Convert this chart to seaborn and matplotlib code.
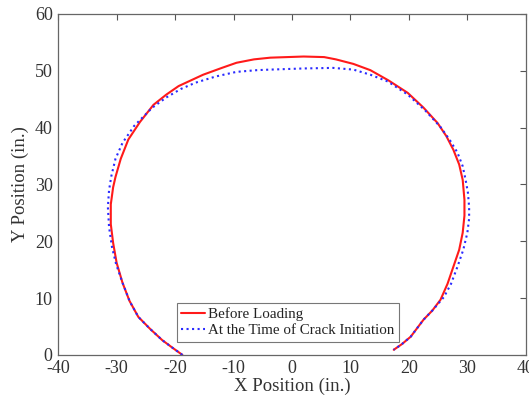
import matplotlib
matplotlib.use("Agg")
import matplotlib.pyplot as plt
import seaborn as sns

# Before Loading (red, solid)
before_x = [-18.75, -20.5, -22.2, -24.3, -26.3, -27.8, -29.0, -30.0, -30.6, -31.0,
            -31.0, -30.6, -30.2, -29.3, -28.0, -26.0, -23.7, -21.5, -19.4, -15.2,
            -12.0, -9.5, -6.5, -3.7, 2.0, 5.5, 7.5, 10.5, 13.4, 16.5,
            19.8, 22.5, 24.9, 26.4, 27.6, 28.6, 29.2, 29.5, 29.5, 29.2,
            28.6, 27.6, 26.6, 25.4, 24.0, 22.5, 20.3, 18.8, 17.4]
before_y = [0.0, 1.3, 2.6, 4.6, 6.7, 9.5, 12.7, 16.2, 19.7, 23.0,
            26.5, 29.5, 31.3, 34.5, 37.9, 41.0, 44.0, 45.8, 47.3, 49.3,
            50.5, 51.4, 52.0, 52.3, 52.5, 52.4, 52.0, 51.2, 50.1, 48.3,
            46.1, 43.5, 40.8, 38.5, 36.1, 33.5, 30.8, 27.3, 24.5, 21.5,
            18.5, 15.5, 12.5, 9.7, 7.8, 6.2, 3.2, 1.9, 0.9]

# At the Time of Crack Initiation (blue, dotted)
crack_x = [-18.75, -20.5, -22.2, -24.3, -26.3, -27.8, -29.0, -30.1, -30.8, -31.3,
           -31.5, -31.3, -30.9, -30.2, -29.0, -27.0, -23.9, -21.5, -19.0, -16.5,
           -13.0, -9.5, -6.0, -3.7, 2.0, 7.0, 10.5, 13.4, 16.4, 19.8,
           22.8, 25.4, 27.0, 28.3, 29.2, 29.7, 30.1, 30.3, 30.3, 30.0,
           29.3, 28.3, 27.2, 26.0, 24.0, 22.5, 20.3, 18.8, 17.4]
crack_y = [0.0, 1.3, 2.6, 4.6, 6.7, 9.5, 12.7, 16.0, 19.0, 22.5,
           26.0, 29.0, 31.5, 34.5, 37.3, 40.3, 43.5, 45.3, 46.8, 47.9,
           49.0, 49.8, 50.1, 50.2, 50.4, 50.5, 50.2, 49.3, 48.1, 45.8,
           43.0, 40.1, 37.8, 35.6, 33.2, 30.8, 28.5, 26.0, 24.0, 21.5,
           18.5, 15.5, 12.5, 10.2, 7.8, 6.2, 3.2, 1.9, 0.9]

series_labels = ["Before Loading", "At the Time of Crack Initiation"]
x_ticks = [-40, -30, -20, -10, 0, 10, 20, 30, 40]
y_ticks = [0, 10, 20, 30, 40, 50, 60]

sns.set_style("white")
plt.rcParams["font.family"] = ["Liberation Serif", "DejaVu Serif"]
plt.rcParams["axes.unicode_minus"] = False

fig = plt.figure(figsize=(5.29, 3.97), dpi=100)
ax = fig.add_axes([0.110, 0.106, 0.884, 0.859])

sns.lineplot(x=before_x, y=before_y, sort=False, estimator=None, ax=ax,
             color="#ff1a1a", linewidth=1.5, label=series_labels[0])
sns.lineplot(x=crack_x, y=crack_y, sort=False, estimator=None, ax=ax,
             color="#2a2aff", linewidth=1.5, linestyle=":", label=series_labels[1])

ax.set_xlim(-40, 40)
ax.set_ylim(0, 60)
ax.set_xticks(x_ticks)
ax.set_yticks(y_ticks)
ax.tick_params(direction="in", length=4, width=0.8, top=True, right=True,
               labelsize=13, colors="#555555", labelcolor="#333333")
ax.tick_params(axis="x", pad=4)
ax.tick_params(axis="y", pad=4)
for s in ax.spines.values():
    s.set_color("#666666")
    s.set_linewidth(0.9)
ax.set_xlabel("X Position (in.)", fontsize=13.5, color="#333333", labelpad=0)
ax.set_ylabel("Y Position (in.)", fontsize=13.5, color="#333333", labelpad=4)

leg = ax.legend(loc="lower left", bbox_to_anchor=(0.254, 0.038), fontsize=10.8,
                frameon=True, fancybox=False, edgecolor="#555555",
                handlelength=1.55, handletextpad=0.2, borderpad=0.3,
                labelspacing=0.2, borderaxespad=0)
leg.get_frame().set_linewidth(0.8)
for t in leg.get_texts():
    t.set_color("#222222")

fig.savefig("out.png", dpi=100)
